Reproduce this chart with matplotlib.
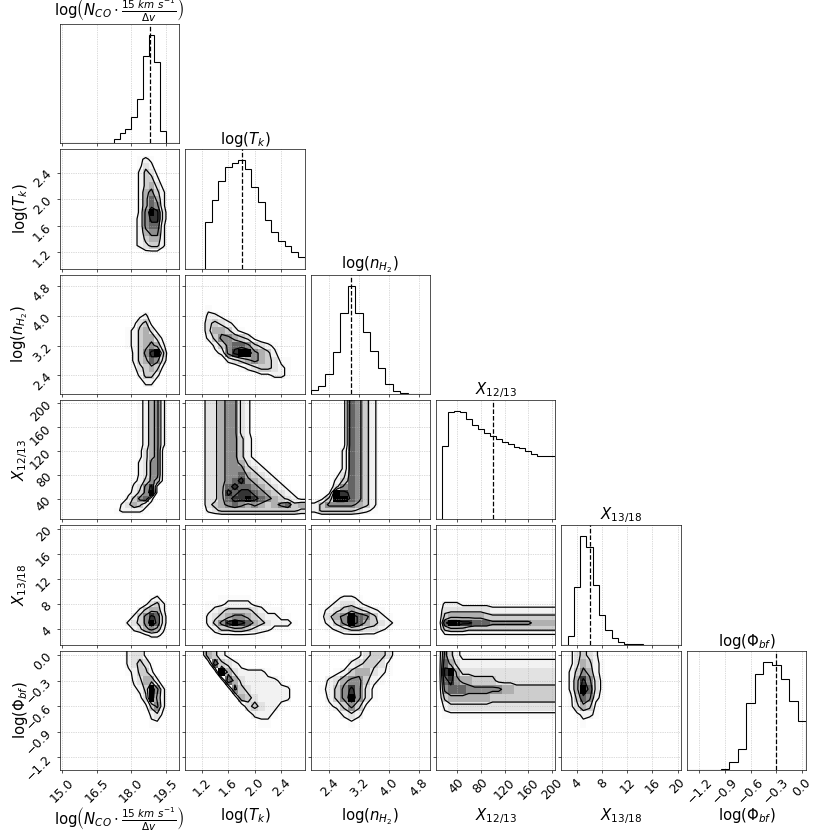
import numpy as np
import matplotlib
matplotlib.use("Agg")
import matplotlib.pyplot as plt
from matplotlib.colors import LinearSegmentedColormap

# parameter labels (also used as titles on the diagonal)
labels = [
    r"$\mathrm{log}\left(N_{CO}\cdot\frac{15\ km\ s^{-1}}{\Delta v}\right)$",
    r"$\mathrm{log}(T_k)$",
    r"$\mathrm{log}(n_{H_2})$",
    r"$X_{12/13}$",
    r"$X_{13/18}$",
    r"$\mathrm{log}(\Phi_{bf})$",
]
axis_ranges = [(14.91, 20.07), (0.95, 2.75), (1.9, 5.1), (5.0, 205.0), (1.5, 20.5), (-1.35, 0.05)]
bin_start = [15.0, 0.95, 1.9, 5.0, 1.5, -1.35]
bin_width = [0.25, 0.1, 0.2, 10.0, 1.0, 0.1]
tick_values = [
    [15.0, 16.5, 18.0, 19.5],
    [1.2, 1.6, 2.0, 2.4],
    [2.4, 3.2, 4.0, 4.8],
    [40, 80, 120, 160, 200],
    [4, 8, 12, 16, 20],
    [-1.2, -0.9, -0.6, -0.3, 0.0],
]
medians = [18.79, 1.80, 2.99, 100.0, 6.0, -0.30]

# 1D marginal histograms (bin heights)
hist_nco = [0, 0, 0, 0, 0, 0, 0, 0, 0, 4, 10, 15, 27, 45, 88, 110, 82, 12, 0, 0]
hist_tk = [0, 0, 0, 47, 69, 88, 102, 106, 109, 100, 82, 67, 49, 37, 28, 23, 17, 12]
hist_nh2 = [4, 8, 20, 42, 81, 108, 81, 62, 43, 26, 10, 2.6, 0.6, 0.3, 0.2, 0.1]
hist_x12 = [0, 73, 107, 108, 107, 100, 94, 90, 86, 83, 80, 77, 75, 72, 71, 68, 65, 63, 63, 63]
hist_x13 = [0, 8.7, 57.7, 108, 97.7, 60, 30, 15, 6.5, 2.5, 1.2, 0.7, 0.4, 0.2, 0.1, 0, 0, 0, 0]
hist_phi = [0, 0, 0, 0.7, 1.3, 8.7, 21, 66.7, 95.3, 107.7, 104.3, 91, 68.7, 49.3]
hists = [hist_nco, hist_tk, hist_nh2, hist_x12, hist_x13, hist_phi]

# 2D histograms: digits = relative counts (0-9), rows from high y to low y.
# *_at = (first x bin, lowest y bin) of the block
tk_nco = ["0012100", "0013200", "0024310", "0024420", "0024531", "0025642", "0025752",
          "0025762", "0026983", "0126883", "0126772", "0125662", "0124552", "0123442", "0001110"]
tk_nco_at = (11, 2)

nh2_nco = ["0012000", "0134100", "1245310", "1245531", "1245652", "0246894",
           "0245763", "0134541", "0024420", "0002200"]
nh2_nco_at = (11, 1)

x12_nco = (["000012562"] * 8 + ["000013561"] * 2 + ["000023661"] * 3 +
           ["000124651", "000236810", "001246910", "002467200", "023542100", "122221000"])
x12_nco_at = (9, 1)

x13_nco = ["0000120", "0001342", "0024552", "0246873", "2346973", "0235652", "0001221"]
x13_nco_at = (11, 1)

phi_nco = ["2331000", "2343100", "1244200", "0235520", "0124962", "0013952",
           "0001462", "0000231", "0000110"]
phi_nco_at = (11, 5)

nh2_tk = ["1000000000000", "2210000000000", "3432100000000", "3554210000000",
          "2466543100000", "0246776432100", "0126899654200", "0002345654311",
          "0000012344321", "0000000011221"]
nh2_tk_at = (3, 2)

x12_tk = (["335663200000000"] * 6 + ["335664210000000"] * 4 +
          ["335665321000000", "335666432100000", "335667543210000", "335678654321000",
           "335787765432100", "335878876543210", "335788987654321", "345676565456745",
           "234444444444443"])
x12_tk_at = (3, 1)

x13_tk = ["00111110000000", "11122221110000", "12344443211100", "23456654322110",
          "24689875432221", "12445543221110", "01111111100000"]
x13_tk_at = (3, 1)

phi_tk = ["054210000000000", "007432100000000", "000953222210000", "000075322222100",
          "000006432222220", "000000543222220", "000000034322100", "000000002221000",
          "000000000110000"]
phi_tk_at = (2, 5)

x12_nh2 = (["0000176420"] * 8 + ["0000276420"] * 4 +
           ["0001376420", "0002476420", "0003676420", "0019876420", "0149976420",
            "2466665420", "2444443210"])
x12_nh2_at = (0, 1)

x13_nh2 = ["00122100000", "01233210000", "12345432100", "13569764210",
           "12469754321", "01234433210", "00011111000"]
x13_nh2_at = (1, 1)

phi_nh2 = ["00000134430", "00002344310", "00124553210", "02356642100", "12468631000",
           "02469631000", "01246410000", "00023200000", "00001000000"]
phi_nh2_at = (1, 5)

x13_x12 = ["02221111111111111111", "03333333322222222222", "04555555444444444444",
           "07998877766666665555", "04555444444444444444", "01111111111111111111"]
x13_x12_at = (0, 1)

phi_x12 = ["06421111111111111111", "07532222222222222222", "08953333333333333333",
           "07865544443333333333", "06777666666554444444", "04555555544444444444",
           "02333333333333333333", "01111111111111111111"]
phi_x12_at = (0, 6)

phi_x13 = ["1343200", "1354210", "2465210", "2586310", "2597310", "1476210",
           "1354100", "0122100", "0010000"]
phi_x13_at = (1, 5)

panels = {
    (1, 0): (tk_nco, tk_nco_at),
    (2, 0): (nh2_nco, nh2_nco_at), (2, 1): (nh2_tk, nh2_tk_at),
    (3, 0): (x12_nco, x12_nco_at), (3, 1): (x12_tk, x12_tk_at), (3, 2): (x12_nh2, x12_nh2_at),
    (4, 0): (x13_nco, x13_nco_at), (4, 1): (x13_tk, x13_tk_at), (4, 2): (x13_nh2, x13_nh2_at),
    (4, 3): (x13_x12, x13_x12_at),
    (5, 0): (phi_nco, phi_nco_at), (5, 1): (phi_tk, phi_tk_at), (5, 2): (phi_nh2, phi_nh2_at),
    (5, 3): (phi_x12, phi_x12_at), (5, 4): (phi_x13, phi_x13_at),
}

# contour levels on the 0-9 count scale (outer to inner)
contour_steps = [1.5, 3.5, 5.5, 7.5]


def bin_edges(k):
    n = len(hists[k])
    return bin_start[k] + bin_width[k] * np.arange(n + 1)


def full_grid(rows, at, nx, ny):
    g = np.zeros((ny, nx))
    x0, y0 = at
    for k, row in enumerate(reversed(rows)):
        vals = [int(c) for c in row]
        g[y0 + k, x0:x0 + len(vals)] = vals
    return g


def padded(g, xe, ye):
    # pad like corner does so contours close beyond the axes
    cx = 0.5 * (xe[1:] + xe[:-1])
    cy = 0.5 * (ye[1:] + ye[:-1])
    ny, nx = g.shape
    H2 = np.zeros((ny + 4, nx + 4)) + g.min()
    H2[2:-2, 2:-2] = g
    H2[2:-2, 1] = g[:, 0]
    H2[2:-2, -2] = g[:, -1]
    H2[1, 2:-2] = g[0]
    H2[-2, 2:-2] = g[-1]
    H2[1, 1] = g[0, 0]
    H2[1, -2] = g[0, -1]
    H2[-2, 1] = g[-1, 0]
    H2[-2, -2] = g[-1, -1]
    dx = cx[1] - cx[0]
    dy = cy[1] - cy[0]
    X2 = np.concatenate([cx[0] + np.array([-2, -1]) * dx, cx, cx[-1] + np.array([1, 2]) * dx])
    Y2 = np.concatenate([cy[0] + np.array([-2, -1]) * dy, cy, cy[-1] + np.array([1, 2]) * dy])
    return X2, Y2, H2


K = len(labels)
factor = 2.0
lbdim = 0.5 * factor
trdim = 0.2 * factor
whspace = 0.05
plotdim = factor * K + factor * (K - 1.0) * whspace
dim = lbdim + plotdim + trdim

fig, axes = plt.subplots(K, K, figsize=(dim, dim))
lb = lbdim / dim
tr = (lbdim + plotdim) / dim
fig.subplots_adjust(left=lb, bottom=lb, right=tr, top=tr, wspace=whspace, hspace=whspace)

density_cmap = LinearSegmentedColormap.from_list("density_cmap", ["k", (1, 1, 1, 0)])
label_size = 18
tick_size = 15

for i in range(K):
    for j in range(K):
        ax = axes[i, j]
        if j > i:
            ax.set_frame_on(False)
            ax.set_xticks([])
            ax.set_yticks([])
            continue

        if i == j:
            edges = bin_edges(i)
            ax.hist(edges[:-1], bins=edges, weights=hists[i], histtype="step", color="k", lw=1.3)
            ax.axvline(medians[i], ls="dashed", color="k", lw=1.5)
            ax.set_ylim(0, 1.1 * max(hists[i]))
            ax.set_yticks([])
            ax.set_title(labels[i], fontsize=label_size)
        else:
            xe = bin_edges(j)
            ye = bin_edges(i)
            rows, at = panels[(i, j)]
            g = full_grid(rows, at, len(xe) - 1, len(ye) - 1)
            ax.pcolormesh(xe, ye, g.max() - g, cmap=density_cmap)
            X2, Y2, H2 = padded(g, xe, ye)
            ax.contour(X2, Y2, H2, contour_steps, colors="k", linewidths=1.5)
            ax.set_yticks(tick_values[i])
            ax.set_ylim(axis_ranges[i])
            if j == 0:
                ax.set_ylabel(labels[i], fontsize=label_size)
                ax.yaxis.set_label_coords(-0.25, 0.5)
                ax.tick_params(axis="y", labelrotation=45)
            else:
                ax.set_yticklabels([])

        ax.set_xticks(tick_values[j])
        ax.set_xlim(axis_ranges[j])
        if i == K - 1:
            ax.set_xlabel(labels[j], fontsize=label_size)
            ax.xaxis.set_label_coords(0.5, -0.3)
            ax.tick_params(axis="x", labelrotation=45)
        else:
            ax.set_xticklabels([])
        ax.tick_params(labelsize=tick_size)
        ax.grid(True, ls=":")

fig.savefig("out.png", dpi=830 / dim)
